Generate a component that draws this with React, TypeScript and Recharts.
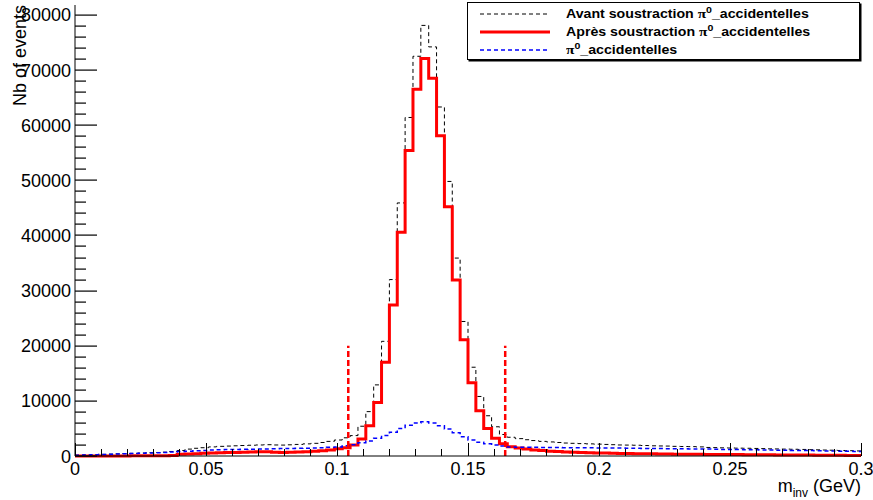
import { ComposedChart, Line, XAxis, YAxis, ReferenceLine } from "recharts";

// 100 bins of 3 MeV between 0 and 0.3 GeV
const binWidth = 0.003;

const avant = [
  150, 200, 260, 300, 340, 390, 440, 480, 540, 600, 640, 700, 820,
  1000, 1250, 1400, 1500,
  1650, 1750, 1800, 1850, 1900, 1950, 2000, 2050, 2000, 1980, 2030, 2100, 2200, 2300, 2450, 2650,
  2900, 3300, 3700, 5400, 8050, 12900, 20800, 32000, 45900, 61400, 72500, 78100,
  74200, 63300, 49800, 35900, 24400, 16100, 10800, 7300, 5300, 3900, 3400,
  3150, 2950, 2800, 2650, 2550, 2450, 2350, 2300, 2250, 2200, 2150, 2100, 2050, 2000,
  1980, 1950, 1900, 1850, 1820, 1800, 1750, 1720, 1700, 1650,
  1550, 1520, 1480, 1450, 1420, 1400, 1370, 1340, 1300, 1280,
  1250, 1220, 1190, 1150, 1120, 1080, 1050, 1000, 960, 920,
];

const apres = [
  0, 0, 0, 10, 10, 20, 20, 30, 30, 40, 40, 50, 80,
  330, 380, 420, 500,
  560, 600, 620, 650, 680, 720, 760, 780, 700, 620, 660, 720, 780, 850, 950, 1080,
  1300, 1500, 2000, 3100, 5500, 9700, 17000, 27400, 40600, 55400, 66500, 72100,
  68500, 58100, 45200, 31900, 21100, 13300, 8200, 5000, 3200, 2200, 1700,
  1450, 1250, 1100, 980, 880, 800, 740, 690, 640, 600, 560, 530, 500, 470,
  450, 430, 410, 390, 370, 360, 340, 330, 320, 300,
  290, 280, 270, 260, 250, 240, 230, 220, 210, 200,
  190, 180, 170, 160, 150, 140, 130, 120, 110, 100,
];

const accidentelles = [
  150, 190, 240, 280, 310, 360, 400, 440, 490, 540, 580, 630, 740,
  800, 870, 940, 1000,
  1080, 1130, 1170, 1200, 1230, 1240, 1250, 1270, 1300, 1340, 1370, 1390, 1420, 1450, 1500, 1580,
  1650, 1850, 2050, 2400, 2700, 3200, 3700, 4300, 5000, 5600, 6000, 6200,
  6000, 5500, 4900, 4200, 3500, 2900, 2500, 2200, 2000, 1800, 1650,
  1600, 1600, 1580, 1560, 1540, 1530, 1510, 1500, 1500, 1480, 1470, 1460, 1450, 1440,
  1420, 1400, 1380, 1370, 1350, 1330, 1320, 1300, 1280, 1260,
  1250, 1230, 1200, 1180, 1160, 1140, 1120, 1100, 1080, 1060,
  1040, 1020, 1000, 980, 950, 920, 900, 870, 840, 800,
];

// signal window cuts
const cutLow = 0.1043;
const cutHigh = 0.1642;
const cutHeight = 20000;

const xTicks = Array.from({ length: 31 }, (_, i) => i / 100);
const yMajorTicks = Array.from({ length: 9 }, (_, i) => i * 10000);
const yMinorTicks = Array.from({ length: 41 }, (_, i) => i * 2000);
const yDomain = [0, 81800];

const legendItems = [
  { prefix: "Avant soustraction ", color: "#000", dash: "4 3", width: 1 },
  { prefix: "Après soustraction ", color: "#ff0000", dash: undefined, width: 3 },
  { prefix: "", color: "#0000ff", dash: "4 3", width: 1.5 },
];

const rows = avant.map((v, i) => ({
  x: Math.round(i * binWidth * 1000) / 1000,
  avant: v,
  apres: apres[i],
  acc: accidentelles[i],
}));
rows.push({ x: 0.3, avant: avant[99], apres: apres[99], acc: accidentelles[99] });

const font = "'Liberation Sans', Arial, Helvetica, sans-serif";

// frame geometry (chart margins + axis sizes)
const W = 873;
const H = 500;
const frameLeft = 75;
const frameTop = 5;
const frameBottom = H - 44;

const YLabel = (props: any) => {
  const { x, y, payload } = props;
  return (
    <text x={x} y={y + 6.5} textAnchor="end" fontSize={18} fontFamily={font} fill="#000">
      {payload.value}
    </text>
  );
};

const XTick = (props: any) => {
  const { x, y, payload } = props;
  const h = Math.round(payload.value * 100);
  const major = h % 5 === 0;
  return (
    <g>
      <path d={`M${x},${y}v${major ? -13 : -7}`} stroke="#000" strokeWidth={1} fill="none" shapeRendering="crispEdges" />
      {major && (
        <text x={x} y={y + 19} textAnchor="middle" fontSize={18} fontFamily={font} fill="#000">
          {String(h / 100)}
        </text>
      )}
    </g>
  );
};

const YTitle = (props: any) => {
  const vb = props.viewBox;
  return (
    <text transform={`translate(26, ${vb.y}) rotate(-90)`} textAnchor="end" fontSize={18} fontFamily={font} fill="#000">
      Nb of events
    </text>
  );
};

const XTitle = (props: any) => {
  const vb = props.viewBox;
  return (
    <text x={vb.x + vb.width} y={492} textAnchor="end" fontSize={18} fontFamily={font} fill="#000">
      <tspan>m</tspan>
      <tspan fontSize={12} dy={5}>inv</tspan>
      <tspan dy={-5}> (GeV)</tspan>
    </text>
  );
};

// inward y-axis ticks, ROOT style
function YTickOverlay() {
  const toY = (v: number) => frameBottom - (v / yDomain[1]) * (frameBottom - frameTop);
  return (
    <svg width={W} height={H} style={{ position: "absolute", left: 0, top: 0, pointerEvents: "none" }}>
      {yMinorTicks.map((v) => (
        <rect
          key={v}
          x={frameLeft}
          y={Math.round(toY(v)) - 0.5}
          width={v % 10000 === 0 ? 22 : 11}
          height={1.2}
          fill="#000"
        />
      ))}
    </svg>
  );
}

function Legend() {
  return (
    <div style={{ position: "absolute", left: 467, top: 2, width: 391, height: 56, border: "1px solid #000", boxShadow: "1.5px 1.5px 0 #000", background: "#fff" }}>
      {legendItems.map((it, i) => (
        <div key={i} style={{ position: "absolute", left: 0, top: 2 + i * 18, height: 18, width: 390 }}>
          <svg width={80} height={18} style={{ position: "absolute", left: 12, top: 0 }}>
            <line x1={0} x2={70} y1={9} y2={9} stroke={it.color} strokeWidth={it.width} strokeDasharray={it.dash} />
          </svg>
          <div style={{ position: "absolute", left: 98, top: 0, height: 18, lineHeight: "18px", whiteSpace: "nowrap", fontFamily: font, fontWeight: "bold", fontSize: 12, transform: "scaleX(1.18)", transformOrigin: "left center" }}>
            {it.prefix}
            <span style={{ fontFamily: "'Liberation Serif', serif", fontSize: 13 }}>π</span>
            <span style={{ fontSize: 9, position: "relative", top: -5 }}>0</span>
            _accidentelles
          </div>
        </div>
      ))}
    </div>
  );
}

export default function App() {
  return (
    <div style={{ position: "absolute", left: 0, top: 0, width: W, height: H, background: "#fff" }}>
      <ComposedChart width={W} height={H} data={rows} margin={{ top: frameTop, right: 12, left: 0, bottom: 0 }}>
        <XAxis dataKey="x" type="number" domain={[0, 0.3]} ticks={xTicks} interval={0} tickSize={0} tickMargin={0} tickLine={false} tick={<XTick />} height={44} axisLine={{ stroke: "#000" }} label={<XTitle />} />
        <XAxis xAxisId="top" orientation="top" type="number" domain={[0, 0.3]} height={0} tick={false} tickLine={false} axisLine={{ stroke: "#000" }} />
        <YAxis type="number" domain={yDomain} ticks={yMajorTicks} interval={0} tickSize={0} tickMargin={4} tickLine={false} tick={<YLabel />} width={frameLeft} axisLine={{ stroke: "#000" }} label={<YTitle />} />
        <YAxis yAxisId="right" orientation="right" type="number" domain={yDomain} width={0} tick={false} tickLine={false} axisLine={{ stroke: "#000" }} />
        <Line dataKey="avant" type="stepAfter" stroke="#000" strokeWidth={1} strokeDasharray="4 3" dot={false} isAnimationActive={false} />
        <Line dataKey="apres" type="stepAfter" stroke="#ff0000" strokeWidth={3} dot={false} isAnimationActive={false} />
        <Line dataKey="acc" type="stepAfter" stroke="#0000ff" strokeWidth={1.5} strokeDasharray="4 3" dot={false} isAnimationActive={false} />
        <ReferenceLine segment={[{ x: cutLow, y: 0 }, { x: cutLow, y: cutHeight }]} stroke="#ff0000" strokeWidth={2.5} strokeDasharray="6 3" />
        <ReferenceLine segment={[{ x: cutHigh, y: 0 }, { x: cutHigh, y: cutHeight }]} stroke="#ff0000" strokeWidth={2.5} strokeDasharray="6 3" />
      </ComposedChart>
      <YTickOverlay />
      <Legend />
    </div>
  );
}
